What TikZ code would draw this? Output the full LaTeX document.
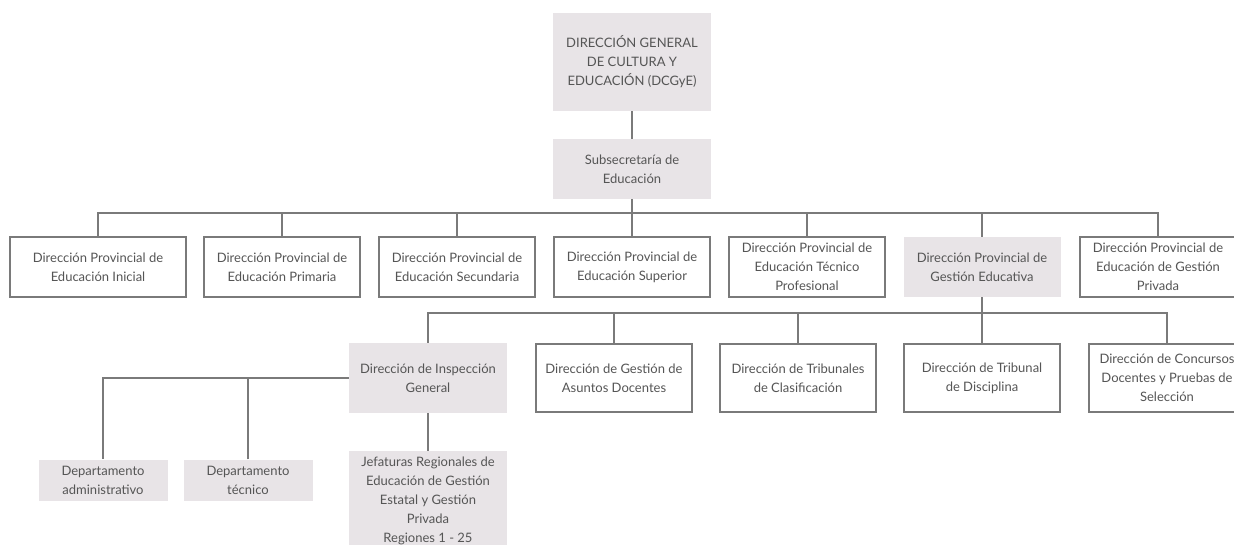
\documentclass[tikz,border=0pt]{standalone}
\usepackage{fontspec}
\setmainfont{Lato}
\definecolor{boxgray}{HTML}{E8E4E7}
\definecolor{linegray}{HTML}{7A7A7A}
\definecolor{txtgray}{HTML}{555555}

\begin{document}
\begin{tikzpicture}[x=1pt,y=-1pt,
  unit/.style={inner sep=0pt,align=center,text=txtgray,font=\fontsize{13}{19}\selectfont},
  shaded/.style={unit,fill=boxgray},
  framed/.style={unit,draw=linegray,line width=1.4pt,fill=white},
  link/.style={draw=linegray,line width=1.4pt}]
\useasboundingbox (0,0) rectangle (1234,545);
\node[shaded,minimum width=158,minimum height=98] (d0) at (632,62) {DIRECCIÓN GENERAL\\DE CULTURA Y\\EDUCACIÓN (DCGyE)};
\node[shaded,minimum width=158,minimum height=60] (s1) at (632,169) {Subsecretaría de\\Educación};
\coordinate (b1) at (632,213);
\node[framed,minimum width=176,minimum height=60] (p1) at (98,267) {Dirección Provincial de\\Educación Inicial};
\node[framed,minimum width=156,minimum height=60] (p2) at (282,267) {Dirección Provincial de\\Educación Primaria};
\node[framed,minimum width=156,minimum height=60] (p3) at (457,267) {Dirección Provincial de\\Educación Secundaria};
\node[framed,minimum width=156,minimum height=60] (p4) at (632,267) {Dirección Provincial de\\Educación Superior};
\node[framed,minimum width=156,minimum height=60] (p5) at (807,267) {Dirección Provincial de\\Educación Técnico\\Profesional};
\node[shaded,minimum width=157,minimum height=60] (p6) at (982,267) {Dirección Provincial de\\Gestión Educativa};
\node[framed,minimum width=156,minimum height=60] (p7) at (1158,267) {Dirección Provincial de\\Educación de Gestión\\Privada};
\coordinate (b2) at (982,313);
\node[shaded,minimum width=158,minimum height=70] (g1) at (428,378) {Dirección de Inspección\\General};
\node[framed,minimum width=156,minimum height=68] (g2) at (614,378) {Dirección de Gestión de\\Asuntos Docentes};
\node[framed,minimum width=156,minimum height=68] (g3) at (798,378) {Dirección de Tribunales\\de Clasificación};
\node[framed,minimum width=156,minimum height=68] (g4) at (982,378) {Dirección de Tribunal\\de Disciplina};
\node[framed,minimum width=156,minimum height=68] (g5) at (1167,378) {Dirección de Concursos\\Docentes y Pruebas de\\Selección};
\node[shaded,minimum width=129,minimum height=41] (a1) at (103,480) {Departamento\\administrativo};
\node[shaded,minimum width=129,minimum height=41] (a2) at (248,480) {Departamento\\técnico};
\node[shaded,minimum width=158,minimum height=100] (j1) at (428,501) {Jefaturas Regionales de\\Educación de Gestión\\Estatal y Gestión\\Privada\\Regiones 1 - 25};
\draw[link] (d0) -- (s1);
\draw[link] (s1) -- (b1);
\foreach \n in {p1,p2,p3,p4,p5,p6,p7}
  \draw[link] (\n.north) |- (b1);
\draw[link] (p6) -- (b2);
\foreach \n in {g1,g2,g3,g4,g5}
  \draw[link] (\n.north) |- (b2);
\draw[link] (g1.west) -| (a1.north);
\draw[link] (a2.north) |- (g1.west);
\draw[link] (g1) -- (j1);
\end{tikzpicture}
\end{document}
